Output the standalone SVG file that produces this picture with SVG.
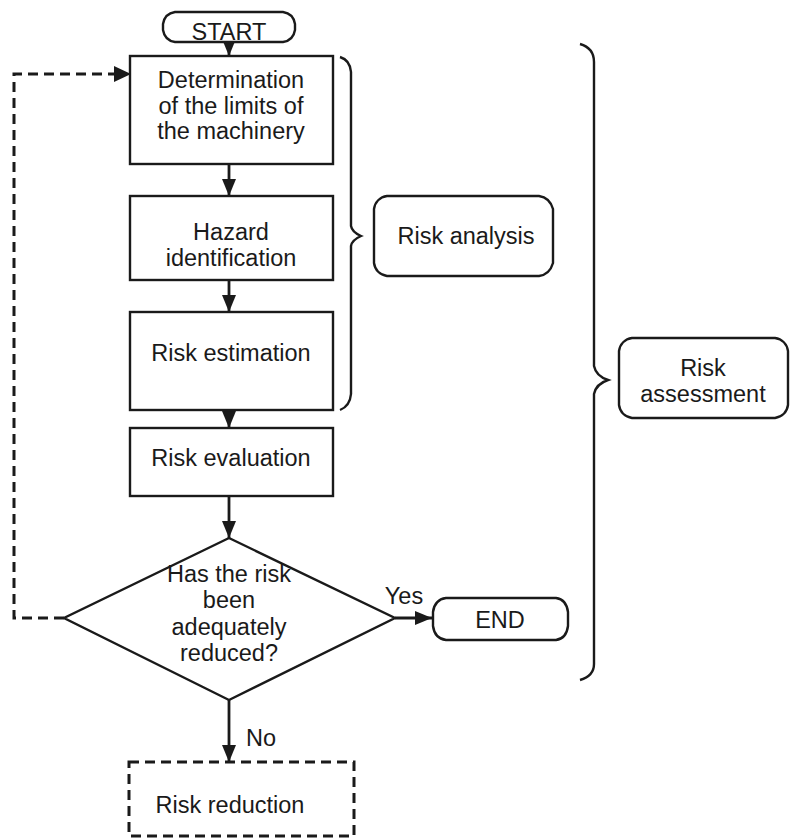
<svg xmlns="http://www.w3.org/2000/svg" width="790" height="840" viewBox="0 0 790 840">
<defs>
<marker id="ah" markerUnits="userSpaceOnUse" markerWidth="18" markerHeight="16" refX="17" refY="8" orient="auto">
<path d="M0,1 L17,8 L0,15 Z" fill="#1a1a1a"/>
</marker>
</defs>
<style>
text{font-family:"Liberation Sans",Arial,sans-serif;font-size:23.5px;fill:#1a1a1a;text-anchor:middle}
.box{fill:#fff;stroke:#1a1a1a;stroke-width:2.4}
.term{fill:#fff;stroke:#1a1a1a;stroke-width:2.4}
.dash{fill:none;stroke:#1a1a1a;stroke-width:3;stroke-dasharray:10 6}
.con{fill:none;stroke:#1a1a1a;stroke-width:2.8}
.brace{fill:none;stroke:#1a1a1a;stroke-width:2.4}
</style>
<rect width="790" height="840" fill="#fff"/>
<g id="connectors">
<line class="con" x1="229" y1="42" x2="229" y2="56" marker-end="url(#ah)"/>
<line class="con" x1="229" y1="164" x2="229" y2="196" marker-end="url(#ah)"/>
<line class="con" x1="229" y1="280" x2="229" y2="312" marker-end="url(#ah)"/>
<line class="con" x1="229" y1="410" x2="229" y2="428" marker-end="url(#ah)"/>
<line class="con" x1="229" y1="496" x2="229" y2="538" marker-end="url(#ah)"/>
<line class="con" x1="395" y1="618" x2="432" y2="618" marker-end="url(#ah)"/>
<line class="con" x1="229" y1="700" x2="229" y2="762" marker-end="url(#ah)"/>
<path class="dash" d="M64,618 L14,618 L14,74 L116,74"/>
<path d="M114,66 L131,74 L114,82 Z" fill="#1a1a1a"/>
<text x="404" y="604">Yes</text>
<text x="261" y="746">No</text>
</g>
<g id="start">
<path class="term" d="M175,12 L283,12 C290,13 294,18 295,24 L295,30 C294,36 290,41 283,42 L175,42 C168,41 164,36 163,30 L163,24 C164,18 168,13 175,12 Z"/>
<text x="229" y="40">START</text>
</g>
<g id="limits">
<rect class="box" x="130" y="56" width="203" height="108"/>
<text x="231" y="88">Determination</text>
<text x="231" y="114">of the limits of</text>
<text x="231" y="139">the machinery</text>
</g>
<g id="hazard">
<rect class="box" x="130" y="196" width="203" height="84"/>
<text x="231" y="240">Hazard</text>
<text x="231" y="266">identification</text>
</g>
<g id="estimation">
<rect class="box" x="130" y="312" width="203" height="98"/>
<text x="231" y="361">Risk estimation</text>
</g>
<g id="evaluation">
<rect class="box" x="130" y="428" width="203" height="68"/>
<text x="231" y="466">Risk evaluation</text>
</g>
<g id="decision">
<path class="box" d="M229,538 L395,618 L229,700 L64,618 Z"/>
<text x="229" y="582">Has the risk</text>
<text x="229" y="608">been</text>
<text x="229" y="635">adequately</text>
<text x="229" y="661">reduced?</text>
</g>
<g id="end">
<path class="term" d="M446,598 L556,598 C563,599 567,604 568,612 L568,626 C567,634 563,639 556,640 L446,640 C439,639 434,634 433,626 L433,612 C434,604 439,599 446,598 Z"/>
<text x="500" y="628">END</text>
</g>
<g id="reduction">
<rect class="dash" x="129" y="762" width="225" height="74"/>
<text x="230" y="813">Risk reduction</text>
</g>
<g id="brace-analysis">
<path class="brace" d="M340,57 Q350,60 351,72 L351,226 Q352,232 361,236 Q352,240 351,246 L351,394 Q350,406 340,410"/>
</g>
<g id="risk-analysis">
<path class="term" d="M387,196 L539,196 C546,197 551,202 553,209 L553,263 C551,270 546,275 539,276 L387,276 C380,275 375,270 374,263 L374,209 C375,202 380,197 387,196 Z"/>
<text x="466" y="244">Risk analysis</text>
</g>
<g id="brace-assessment">
<path class="brace" d="M580,44 Q594,48 594,62 L594,366 Q596,376 608,380 Q596,384 594,394 L594,664 Q594,676 580,680"/>
</g>
<g id="risk-assessment">
<path class="term" d="M632,338 L775,338 C782,339 787,344 788,351 L788,405 C787,412 782,417 775,418 L632,418 C625,417 620,412 619,405 L619,351 C620,344 625,339 632,338 Z"/>
<text x="703" y="376">Risk</text>
<text x="703" y="402">assessment</text>
</g>
</svg>
